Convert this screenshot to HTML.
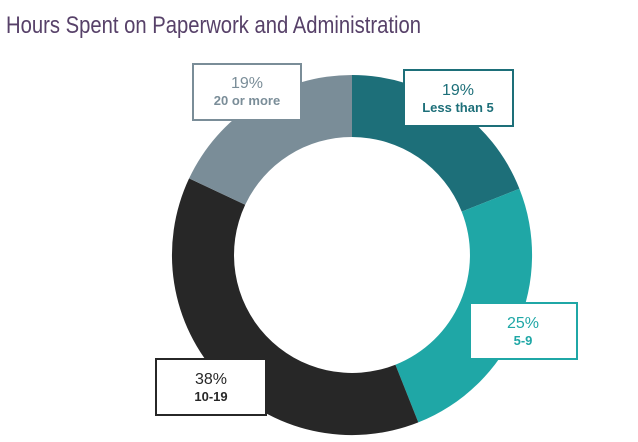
<!DOCTYPE html>
<html><head><style>
html,body{margin:0;padding:0;background:#fff;}
svg{display:block;}
</style></head><body>
<svg width="638" height="442" viewBox="0 0 638 442" xmlns="http://www.w3.org/2000/svg">
<rect width="638" height="442" fill="#fff"/>
<text x="6" y="33" font-family="Liberation Sans, sans-serif" font-size="24" fill="#574169" textLength="415" lengthAdjust="spacingAndGlyphs">Hours Spent on Paperwork and Administration</text>
<!-- slices -->
<path d="M352,75 A180,180 0 0 1 519.4,188.7 L461.7,211.6 A118,118 0 0 0 352,137 Z" fill="#1d6f79"/>
<path d="M519.4,188.7 A180,180 0 0 1 418.3,422.4 L395.4,364.7 A118,118 0 0 0 461.7,211.6 Z" fill="#1fa7a6"/>
<path d="M418.3,422.4 A180,180 0 0 1 189.1,178.4 L245.2,204.8 A118,118 0 0 0 395.4,364.7 Z" fill="#272727"/>
<path d="M189.1,178.4 A180,180 0 0 1 352,75 L352,137 A118,118 0 0 0 245.2,204.8 Z" fill="#7a8d98"/>
<!-- labels -->
<g font-family="Liberation Sans, sans-serif" text-anchor="middle">
<rect x="193" y="64" width="108" height="56" fill="#fff" stroke="#7a8d98" stroke-width="2"/>
<text x="247" y="88" font-size="16" fill="#7a8d98">19%</text>
<text x="247" y="105" font-size="13" font-weight="bold" fill="#7a8d98">20 or more</text>
<rect x="404" y="70" width="109" height="56" fill="#fff" stroke="#1d6f79" stroke-width="2"/>
<text x="458" y="95" font-size="16" fill="#1d6f79">19%</text>
<text x="458" y="112" font-size="13" font-weight="bold" fill="#1d6f79">Less than 5</text>
<rect x="470" y="303" width="107" height="56" fill="#fff" stroke="#1fa7a6" stroke-width="2"/>
<text x="523" y="328" font-size="16" fill="#1fa7a6">25%</text>
<text x="523" y="345" font-size="13" font-weight="bold" fill="#1fa7a6">5-9</text>
<rect x="156" y="359" width="110" height="56" fill="#fff" stroke="#272727" stroke-width="2"/>
<text x="211" y="384" font-size="16" fill="#272727">38%</text>
<text x="211" y="401" font-size="13" font-weight="bold" fill="#272727">10-19</text>
</g>
</svg>
</body></html>
